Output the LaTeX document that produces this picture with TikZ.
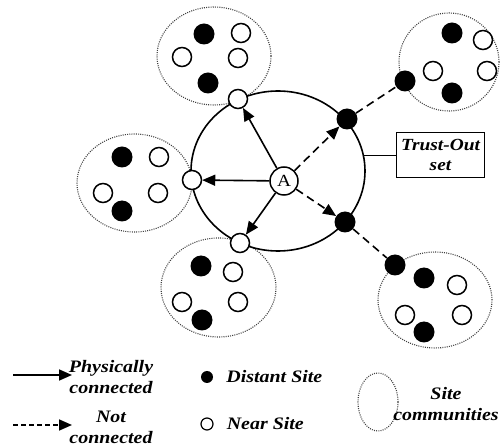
\documentclass[tikz,border=0pt]{standalone}
\usepackage{fontspec}
\setmainfont{Liberation Serif}[FakeStretch=1.14]
\usetikzlibrary{arrows.meta,shapes.geometric,positioning}

\begin{document}
\begin{tikzpicture}[x=1pt,y=-1pt,
  lbl/.style={font=\fontsize{17.5}{21}\selectfont\bfseries\itshape, align=center, inner sep=1pt},
  nearsite/.style={circle, draw, fill=white, line width=1.5pt, minimum size=19pt, inner sep=0pt},
  farsite/.style={circle, fill=black, minimum size=21pt, inner sep=0pt},
  community/.style={ellipse, draw=black!75, line width=1.1pt, dash pattern=on 1pt off 1.2pt, inner sep=0pt},
  phys/.style={-{Triangle[length=13pt,width=11pt]}, line width=1.6pt},
  notconn/.style={phys, dash pattern=on 8pt off 5pt}]
\useasboundingbox (0,0) rectangle (501,446);

% site communities
\foreach \n/\cx/\cy/\w/\h in {ctop/214/56/114/98, ctr/449/62/100/98, cleft/134.5/183/115/98, cbot/218.5/287.5/115/99, cbr/435/300/114/96}
  \node[community, minimum width=\w, minimum height=\h] (\n) at (\cx,\cy) {};
\foreach \s/\x/\y [count=\i] in {farsite/204/34, nearsite/241/33, nearsite/182/57, nearsite/238/58, farsite/208/83,
  farsite/452/33, nearsite/483/40, nearsite/433/71, nearsite/487/71, farsite/452/93,
  farsite/122/157, nearsite/159/157, nearsite/103/193, nearsite/158/193, farsite/122/211,
  farsite/201/266, nearsite/233/272, nearsite/182/302, nearsite/238/302, farsite/202/320,
  farsite/424/278, nearsite/457/285, nearsite/405/315, nearsite/462/315, farsite/424/332}
  \node[\s] (m\i) at (\x,\y) {};

% trust-out ring
\node[ellipse, draw, line width=1.6pt, minimum width=174, minimum height=160, inner sep=0pt] (ring) at (278,171) {};
\node[lbl, draw, line width=1.1pt, minimum width=88, minimum height=45, font=\fontsize{17}{20}\selectfont\bfseries\itshape] (trust) at (440.5,155) {Trust-Out\\set};
\draw[line width=1.1pt] (ring.10) -- (ring.10 -| trust.west);

\node[nearsite, minimum size=28pt, font=\fontsize{17}{17}\selectfont] (A) at (284,181) {A};
\node[nearsite] (nt) at (238,99) {};
\node[nearsite] (nl) at (192,180) {};
\node[nearsite] (nb) at (240,243) {};
\node[farsite] (ft) at (347,119) {};
\node[farsite] (fb) at (345,222) {};
\node[farsite] (ftout) at (405,81) {};
\node[farsite] (fbout) at (395,265) {};

\draw[phys] (A) -- (nt);
\draw[phys] (A) -- (nl);
\draw[phys] (A) -- (nb);
\draw[notconn] (A) -- (ft);
\draw[notconn] (A) -- (fb);
\draw[notconn, -] (ft) -- (ftout);
\draw[notconn, -] (fb) -- (fbout);

% legend
\coordinate (p1) at (13,375);
\coordinate (p2) at (72,375);
\coordinate (q1) at (13,425);
\coordinate (q2) at (72,425);
\draw[phys] (p1) -- (p2);
\draw[notconn, dash pattern=on 4.5pt off 3.5pt] (q1) -- (q2);
\node[lbl] (lphys) at (111,377) {Physically\\connected};
\node[lbl] (lnot) at (111,427) {Not\\connected};
\node[farsite, minimum size=12pt] (kfar) at (207,377) {};
\node[nearsite, minimum size=12pt, line width=1.2pt] (knear) at (207,424) {};
\node[lbl, right=12pt of kfar] (lfar) {Distant Site};
\node[lbl, right=12pt of knear] (lnear) {Near Site};
\node[community, minimum width=40, minimum height=58] (kcom) at (378,402) {};
\node[lbl] (lcom) at (446,404) {Site\\communities};
\end{tikzpicture}
\end{document}
